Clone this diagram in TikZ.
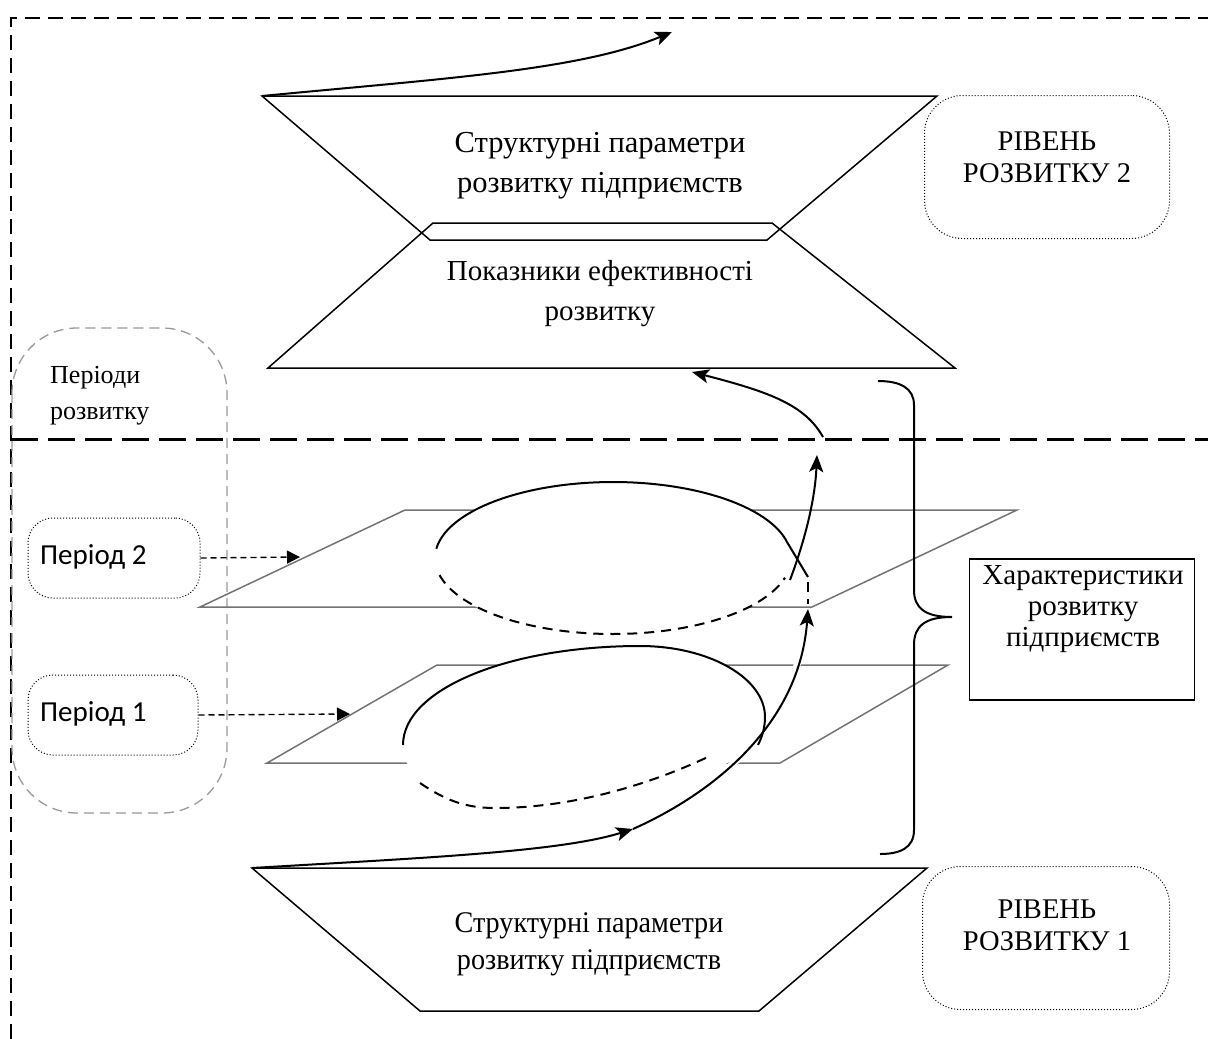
\documentclass[tikz,border=0pt]{standalone}
\usepackage{fontspec}
\setmainfont{Liberation Serif}
\newfontfamily\calibri{Carlito}
\newfontfamily\narrowserif{Liberation Serif}[FakeStretch=0.94]
\usetikzlibrary{arrows.meta}

\begin{document}
\begin{tikzpicture}[x=1pt,y=-1pt,
  outline/.style={draw=black, line width=1.5pt, line join=miter},
  plane/.style={draw=black!55, line width=1.5pt},
  border/.style={draw=black, line width=1.6pt, dash pattern=on 15pt off 8pt},
  divider/.style={draw=black, line width=3pt, dash pattern=on 27pt off 10pt},
  periodzone/.style={draw=black!40, line width=1.3pt, dash pattern=on 10pt off 6pt, rounded corners=65pt},
  dotbox/.style={draw=black, line width=1pt, dotted, rounded corners=#1},
  bigtext/.style={font=\fontsize{30.5}{40}\selectfont, align=center, inner sep=0pt},
  flow/.style={line width=2pt, -{Stealth[length=17pt,width=14pt,inset=4pt]}},
  hidden/.style={line width=2pt, dash pattern=on 10pt off 7pt},
  pointer/.style={line width=1.4pt, dash pattern=on 6pt off 4pt, -{Triangle[length=13pt,width=13pt]}},
]
\useasboundingbox (0,0) rectangle (1208,1039);

% outer frame (top and left sides) and the divider between the levels
\draw[border] (11,1039) -- (11,18) -- (1208,18);
\draw[divider] (11,439) -- (1208,439);

% zone of development periods
\draw[periodzone] (12,328) rectangle (227,813);
\node[font=\fontsize{26}{36}\selectfont, align=left, anchor=west, inner sep=0pt] (periods) at (50,396) {Періоди\\розвитку};

% level 2: hourglass of two trapezoids
\draw[outline] (262,96) -- (937,96) -- (767,240) -- (430,240) -- cycle;
\draw[outline] (433,223) -- (772,223) -- (955,368) -- (268,368) -- cycle;
\node[bigtext] (struct2) at (600,166) {Структурні параметри\\розвитку підприємств};
\node[bigtext, font=\fontsize{29}{40}\selectfont] (effect) at (600,294) {Показники ефективності\\розвитку};

% level 1: lower trapezoid
\draw[outline] (252,868) -- (927,868) -- (759,1011) -- (420,1011) -- cycle;
\node[font=\narrowserif\fontsize{30}{37}\selectfont, align=center, inner sep=0pt] (struct1) at (589,944) {Структурні параметри\\розвитку підприємств};

% level labels
\node[dotbox=38pt, minimum width=245pt, minimum height=143pt] (lvl2box) at (1047,167) {};
\node[font=\fontsize{28.5}{32}\selectfont, align=center, inner sep=0pt] (lvl2) at (1047,157) {РІВЕНЬ\\РОЗВИТКУ 2};
\node[dotbox=38pt, minimum width=247pt, minimum height=143pt] (lvl1box) at (1046,938) {};
\node[font=\fontsize{28.5}{32}\selectfont, align=center, inner sep=0pt] (lvl1) at (1047,925) {РІВЕНЬ\\РОЗВИТКУ 1};

% characteristics box
\node[draw=black, line width=1.5pt, minimum width=225pt, minimum height=141pt] (charbox) at (1082,629.5) {};
\node[font=\fontsize{29}{31}\selectfont, align=center, inner sep=0pt] (chartext) at (1083,609) {Характеристики\\розвитку\\підприємств};

% planes of the periods
\draw[plane] (200,607) -- (405,510) -- (1017,510) -- (812,607) -- cycle;
\draw[plane] (267,763) -- (437,665) -- (948,665) -- (780,763) -- cycle;

% period labels
\node[dotbox=25pt, minimum width=172pt, minimum height=80pt] (p2box) at (114,558) {};
\node[font=\calibri\fontsize{29}{32}\selectfont, anchor=west, inner sep=0pt] (p2) at (40,557) {Період 2};
\node[dotbox=25pt, minimum width=170pt, minimum height=80pt] (p1box) at (113,715) {};
\node[font=\calibri\fontsize{29}{32}\selectfont, anchor=west, inner sep=0pt] (p1) at (40,714) {Період 1};
\coordinate (plane2) at (300,557);
\coordinate (plane1) at (350,714);
\draw[pointer] (p2box.east) -- (plane2);
\draw[pointer] (p1box.east) -- (plane1);

% trajectory points
\coordinate (turn1) at (633,829);
\coordinate (rise1) at (808,609);
\coordinate (exit2) at (790,580);
\coordinate (rise2) at (817,455);
\coordinate (start2) at (823,437);
\coordinate (target2) at (692,372);
\coordinate (beyond) at (672,32);

% loop of period 1 (tilted)
\fill[white] (403,745) .. controls (403,689) and (509,646) .. (640,646)
  .. controls (709,646) and (765,678) .. (765,717)
  .. controls (765,767) and (642,808) .. (495,808)
  .. controls (442,808) and (403,779) .. cycle;
\draw[white, line width=7pt] (turn1) .. controls (720,790) and (800,720) .. (rise1);
\draw[line width=2pt] (403,745) .. controls (403,689) and (509,646) .. (640,646)
  .. controls (709,646) and (765,678) .. (765,717)
  .. controls (765,728) and (762,737) .. (758,745);
\draw[hidden] (420,783) .. controls (445,800) and (465,808) .. (495,808)
  .. controls (580,808) and (660,780) .. (712,755);

% loop of period 2
\fill[white] (613,558) ellipse [x radius=178, y radius=76];
\draw[line width=2pt] plot[domain=187:348, samples=80] ({613+178*cos(\x)}, {558+76*sin(\x)}) -- (808,577);
\draw[hidden] plot[domain=167:15, samples=80] ({613+178*cos(\x)}, {558+76*sin(\x)});
\draw[hidden] (808,582) -- (808,604);

% development trajectory
\draw[flow] (252,868) .. controls (420,858) and (560,852) .. (turn1);
\draw[flow] (turn1) .. controls (720,790) and (800,720) .. (rise1);
\draw[flow] (exit2) .. controls (805,540) and (815,500) .. (rise2);
\draw[flow] (start2) .. controls (805,405) and (770,392) .. (target2);
\draw[flow] (262,96) .. controls (450,78) and (580,70) .. (beyond);

% brace grouping the characteristics
\draw[line width=2pt] (878,381) .. controls (900,381) and (914,388) .. (914,405) -- (914,590)
  .. controls (914,608) and (925,617) .. (952,617)
  .. controls (925,617) and (914,626) .. (914,645) -- (914,830)
  .. controls (914,848) and (900,854) .. (880,854);
\end{tikzpicture}
\end{document}
